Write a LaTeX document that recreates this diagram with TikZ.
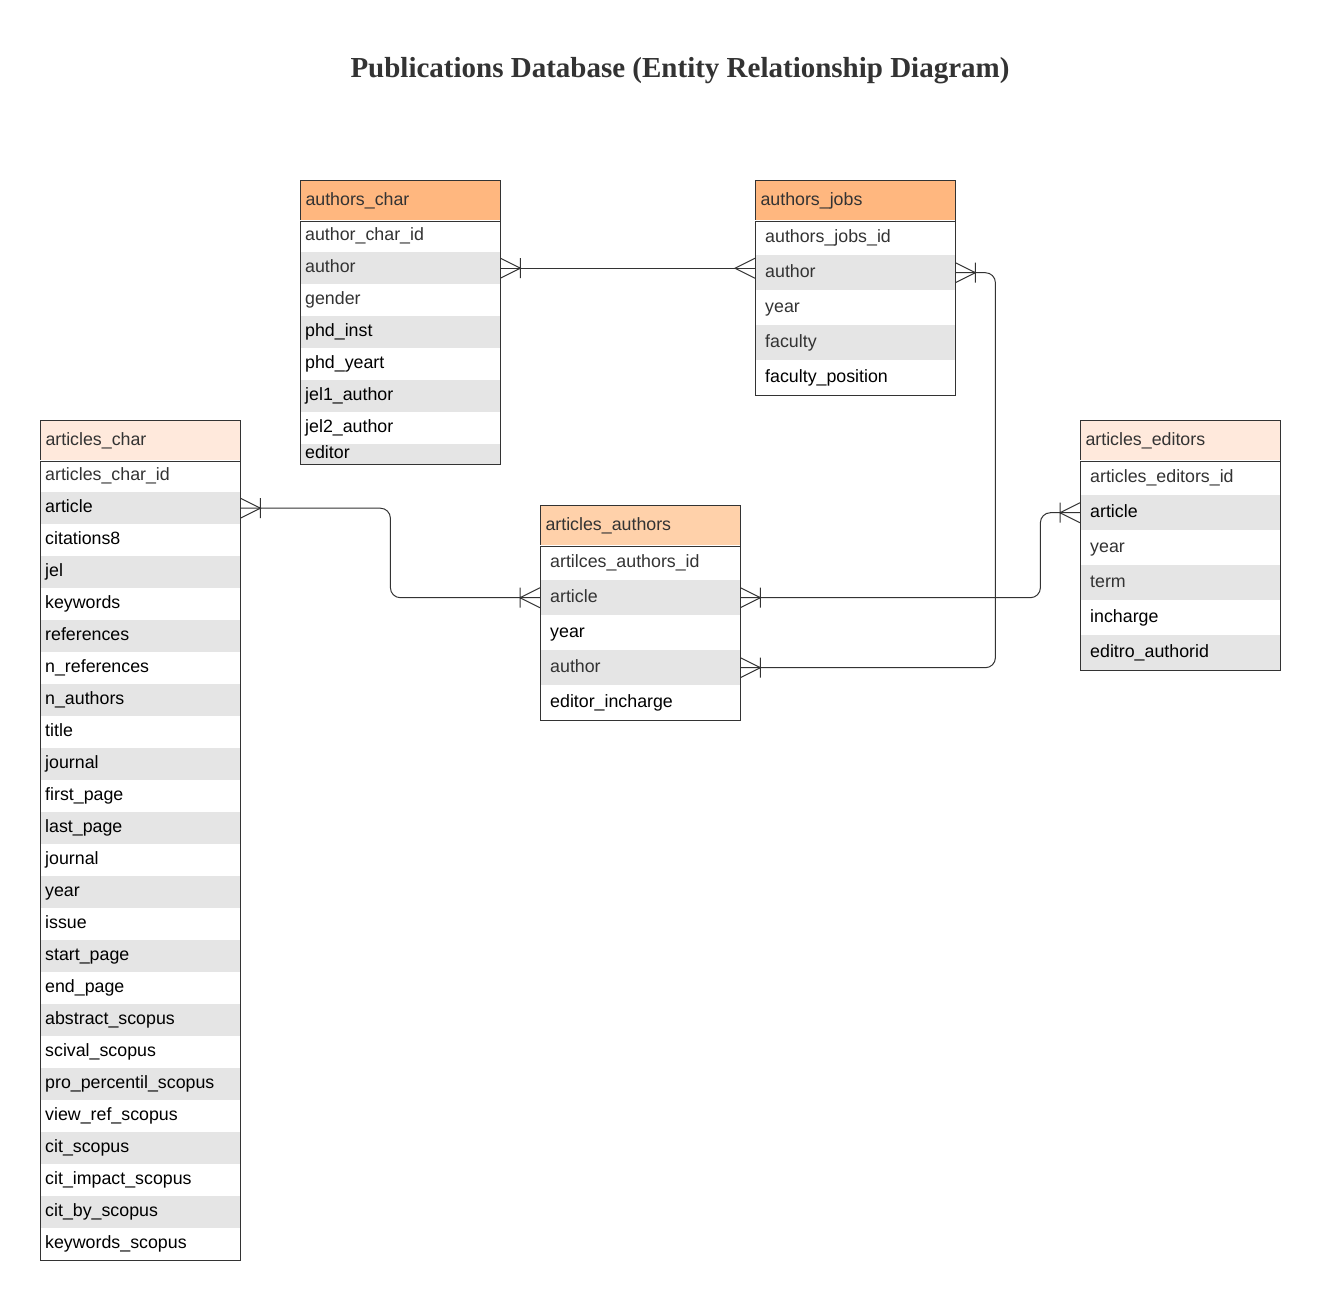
\documentclass[tikz,border=0pt]{standalone}
\usepackage{fontspec}
\setmainfont{Liberation Sans}
\newfontfamily\titlefont{Liberation Serif}

\definecolor{ink}{HTML}{333333}
\definecolor{headorange}{HTML}{FFB77F}
\definecolor{headsoft}{HTML}{FFD1AA}
\definecolor{headpeach}{HTML}{FFE9DC}
\definecolor{rowgray}{HTML}{E5E5E5}

\newcommand{\fieldfont}{\fontsize{17.8}{21}\selectfont}

\tikzset{
	erline/.style={draw=ink,line width=1pt},
	erhead/.style={draw=ink,line width=1pt,anchor=north west,minimum height=40pt,inner xsep=5pt,text width=190pt,align=left,text=ink,font=\fieldfont,text height=13pt,text depth=4pt},
	errow/.style={anchor=north west,inner ysep=0pt,align=left,font=\fieldfont,text height=13pt,text depth=4pt},
	padfive/.style={inner xsep=5pt,text width=190pt},
	padten/.style={inner xsep=10pt,text width=180pt},
	manyone/.pic={\draw[erline] (0,-10) -- (20,0) -- (0,10) (20,-10) -- (20,10);},
	many/.pic={\draw[erline] (0,-10) -- (20,0) -- (0,10);}
}

% #1 name, #2 x, #3 y, #4 header colour, #5 row height, #6 padding, #7 title, #8 fields
\newcommand{\ertable}[8]{%
	\node[erhead,fill=#4] (#1) at (#2,#3) {#7};
	\foreach \key/\tone/\field [count=\i] in {#8} {
		\ifodd\i \def\rowfill{white}\else\def\rowfill{rowgray}\fi
		\node[errow,#6,fill=\rowfill,text=\tone,minimum height=#5pt] (#1-\key) at (#2,{#3+40+(\i-1)*#5}) {\field};
	}
}

\begin{document}
\begin{tikzpicture}[x=1pt,y=-1pt]
	\useasboundingbox[fill=white] (0,0) rectangle (1320,1299);
	
	\node[font=\titlefont\bfseries\fontsize{29}{34}\selectfont,text=ink] (title) at (680,71) {Publications Database (Entity Relationship Diagram)};
	
	\ertable{char}{300}{180}{headorange}{32}{padfive}{authors\_char}{id/ink/author\_char\_id, author/ink/author, gender/ink/gender, inst/black/phd\_inst, yeart/black/phd\_yeart, jel1/black/jel1\_author, jel2/black/jel2\_author}
	\node[errow,padfive,fill=rowgray,text=black,minimum height=20pt] (char-editor) at (300,444) {editor};
	
	\ertable{jobs}{755}{180}{headorange}{35}{padten}{authors\_jobs}{id/ink/authors\_jobs\_id, author/ink/author, year/ink/year, faculty/ink/faculty, position/black/faculty\_position}
	
	\ertable{art}{40}{420}{headpeach}{32}{padfive}{articles\_char}{id/ink/articles\_char\_id, article/black/article, cit8/black/citations8, jel/black/jel, keywords/black/keywords, refs/black/references, nrefs/black/n\_references, nauthors/black/n\_authors, title/black/title, journal/black/journal, first/black/first\_page, last/black/last\_page, journal2/black/journal, year/black/year, issue/black/issue, start/black/start\_page, end/black/end\_page, abstract/black/abstract\_scopus, scival/black/scival\_scopus, pro/black/pro\_percentil\_scopus, viewref/black/view\_ref\_scopus, cit/black/cit\_scopus, impact/black/cit\_impact\_scopus, citby/black/cit\_by\_scopus, kwscopus/black/keywords\_scopus}
	
	\ertable{aa}{540}{505}{headsoft}{35}{padten}{articles\_authors}{id/ink/artilces\_authors\_id, article/ink/article, year/black/year, author/ink/author, incharge/black/editor\_incharge}
	
	\ertable{ed}{1080}{420}{headpeach}{35}{padten}{articles\_editors}{id/ink/articles\_editors\_id, article/black/article, year/ink/year, term/ink/term, incharge/black/incharge, authorid/black/editro\_authorid}
	
	\foreach \t/\l in {char/editor,jobs/position,art/kwscopus,aa/incharge,ed/authorid}
		\draw[erline] (\t.south west) rectangle (\t-\l.south east);
	
	% relationships
	\draw[erline] (char-author.east) -- (jobs-author.west |- char-author.east);
	\draw[erline,rounded corners=10pt] (jobs-author.east) -- ++(40,0) |- (aa-author.east);
	\draw[erline,rounded corners=10pt] (art-article.east) -- ++(150,0) |- (aa-article.west);
	\draw[erline,rounded corners=10pt] (aa-article.east) -- ++(300,0) |- (ed-article.west);
	
	\pic at (char-author.east) {manyone};
	\pic[rotate=180] at (jobs-author.west |- char-author.east) {many};
	\pic at (jobs-author.east) {manyone};
	\pic at (aa-author.east) {manyone};
	\pic at (art-article.east) {manyone};
	\pic[rotate=180] at (aa-article.west) {manyone};
	\pic at (aa-article.east) {manyone};
	\pic[rotate=180] at (ed-article.west) {manyone};
\end{tikzpicture}
\end{document}
